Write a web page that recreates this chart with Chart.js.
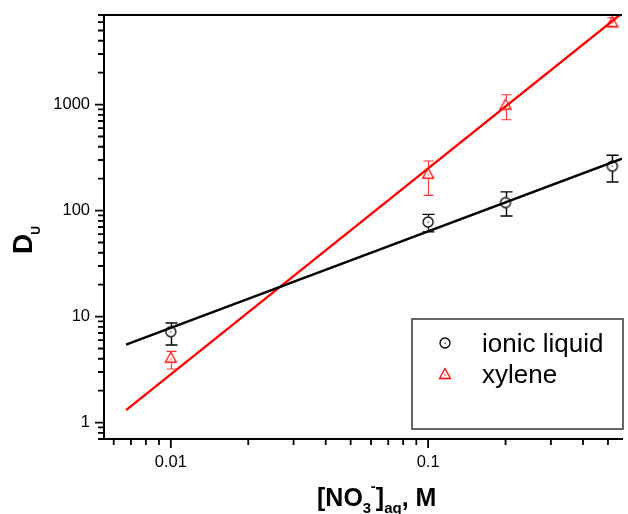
<!DOCTYPE html>
<html>
<head>
<meta charset="utf-8">
<title>D(U) vs nitrate</title>
<script src="https://cdn.jsdelivr.net/npm/chart.js@4.4.0/dist/chart.umd.min.js"></script>
<style>
  html, body { margin: 0; padding: 0; background: #fff; }
  canvas { display: block; }
</style>
</head>
<body>
<canvas id="duChart" width="628" height="514"></canvas>
<script>
// nitrate concentration in the aqueous phase, M
var conc = [0.01, 0.1, 0.2, 0.52];

// D(U) into the ionic liquid, with error bar limits
var duIonic   = [7.2, 78, 119, 262];
var duIonicHi = [8.7, 92, 150, 333];
var duIonicLo = [5.4, 63, 89, 186];

// D(U) into xylene, with error bar limits
var duXylene   = [4.1, 223, 1000, 6000];
var duXyleneHi = [4.7, 294, 1240, 6600];
var duXyleneLo = [3.2, 139, 720, 5400];

// straight-line fits (log-log), end points
var fitConc   = [0.0067, 0.567];
var fitIonic  = [5.44, 309];
var fitXylene = [1.31, 7270];

// labelled ticks
var xTicks = [0.01, 0.1];
var yTicks = [1, 10, 100, 1000];

var FONT = "'Liberation Sans', Arial, Helvetica, sans-serif";

function isMajor(list, v) {
  return list.some(function (t) { return Math.abs(t - v) / t < 1e-6; });
}

// 1..9 x decade ticks inside [min, max]
function logTicks(scale) {
  var out = [];
  var lo = Math.floor(Math.log10(scale.min)), hi = Math.ceil(Math.log10(scale.max));
  for (var e = lo; e <= hi; e++) {
    for (var m = 1; m <= 9; m++) {
      var v = m * Math.pow(10, e);
      if (v >= scale.min * 0.9999 && v <= scale.max * 1.0001) out.push({ value: v });
    }
  }
  scale.ticks = out;
}

function marker(kind, color) {
  var c = document.createElement('canvas');
  c.width = 16; c.height = 16;
  var g = c.getContext('2d');
  g.strokeStyle = color;
  g.fillStyle = color;
  g.lineWidth = 1.3;
  g.beginPath();
  if (kind === 'circle') {
    g.arc(8, 8, 5, 0, Math.PI * 2);
  } else {
    g.moveTo(8, 2.5);
    g.lineTo(13.5, 12.5);
    g.lineTo(2.5, 12.5);
    g.closePath();
  }
  g.stroke();
  g.fillRect(7.5, kind === 'circle' ? 7.5 : 8.5, 1.2, 1.2);
  return c;
}

var circleMark = marker('circle', '#000');
var triMark = marker('triangle', '#ff0000');

function pts(xs, ys) {
  return xs.map(function (x, i) { return { x: x, y: ys[i] }; });
}

// vertical error bars with caps, broken around the marker
var errorBars = {
  id: 'errorBars',
  afterDatasetsDraw: function (chart) {
    var ctx = chart.ctx, xs = chart.scales.x, ys = chart.scales.y;
    chart.data.datasets.forEach(function (ds) {
      if (!ds.errHi) return;
      ctx.save();
      ctx.strokeStyle = ds.errColor;
      ctx.lineWidth = ds.errWidth;
      ds.data.forEach(function (p, j) {
        var x = Math.round(xs.getPixelForValue(p.x)) + 0.5;
        var y = ys.getPixelForValue(p.y);
        var yh = ys.getPixelForValue(ds.errHi[j]);
        var yl = ys.getPixelForValue(ds.errLo[j]);
        var r = ds.errGap, w = ds.errCap;
        ctx.beginPath();
        if (yh < y - r) { ctx.moveTo(x, yh); ctx.lineTo(x, y - r); }
        if (yl > y + r) { ctx.moveTo(x, y + r); ctx.lineTo(x, yl); }
        ctx.moveTo(x - w, yh); ctx.lineTo(x + w, yh);
        ctx.moveTo(x - w, yl); ctx.lineTo(x + w, yl);
        ctx.stroke();
      });
      ctx.restore();
    });
  }
};

// outward tick marks (long on decades, short in between) and the top frame line
var axisMarks = {
  id: 'axisMarks',
  afterDraw: function (chart) {
    var ctx = chart.ctx, a = chart.chartArea;
    var xs = chart.scales.x, ys = chart.scales.y;
    ctx.save();
    ctx.strokeStyle = '#000';
    ctx.lineWidth = 1.8;
    ctx.beginPath();
    xs.ticks.forEach(function (t) {
      var x = xs.getPixelForValue(t.value);
      var len = isMajor(xTicks, t.value) ? 9 : 6;
      ctx.moveTo(x, a.bottom); ctx.lineTo(x, a.bottom + len);
    });
    ys.ticks.forEach(function (t) {
      var y = ys.getPixelForValue(t.value);
      var len = isMajor(yTicks, t.value) ? 9 : 6;
      ctx.moveTo(a.left, y); ctx.lineTo(a.left - len, y);
    });
    ctx.stroke();
    ctx.lineWidth = 2;
    ctx.beginPath();
    ctx.moveTo(a.left - 1, a.top); ctx.lineTo(a.right, a.top);
    ctx.stroke();
    ctx.restore();
  }
};

// axis titles with sub/superscripts and the boxed legend
var labels = {
  id: 'labels',
  afterDraw: function (chart) {
    var ctx = chart.ctx;
    ctx.save();
    ctx.fillStyle = '#000';
    ctx.textAlign = 'left';
    ctx.textBaseline = 'alphabetic';

    // y title: D_U
    ctx.save();
    ctx.translate(32, 254);
    ctx.rotate(-Math.PI / 2);
    ctx.font = 'bold 28px ' + FONT;
    ctx.fillText('D', 0, 0);
    var dw = ctx.measureText('D').width;
    ctx.font = 'bold 12px ' + FONT;
    ctx.fillText('U', dw - 1, 8);
    ctx.restore();

    // x title: [NO3-]aq, M
    var x = 317, base = 506, sub = 513;
    var big = 'bold 25px ' + FONT, small = 'bold 15px ' + FONT;
    function put(txt, font, y) {
      ctx.font = font;
      ctx.fillText(txt, x, y);
      x += ctx.measureText(txt).width;
    }
    put('[NO', big, base);
    var x3 = x;
    put('3', small, sub);
    ctx.font = small;
    ctx.fillText('-', x3 + 8, 491);
    x = Math.max(x, x3 + 13);
    put(']', big, base);
    put('aq', small, sub);
    put(', M', big, base);

    // legend
    var ds = chart.data.datasets;
    ctx.strokeStyle = '#666';
    ctx.lineWidth = 2;
    ctx.strokeRect(412, 319, 211, 110);
    ctx.font = '26px ' + FONT;
    ctx.drawImage(circleMark, 445 - 8, 343 - 8);
    ctx.fillText(ds[0].label, 482, 352);
    ctx.drawImage(triMark, 445 - 8, 374 - 8);
    ctx.fillText(ds[1].label, 482, 383);
    ctx.restore();
  }
};

Chart.defaults.font.family = FONT;
Chart.defaults.color = '#000';

new Chart(document.getElementById('duChart'), {
  type: 'scatter',
  data: {
    datasets: [
      {
        label: 'ionic liquid',
        data: pts(conc, duIonic),
        pointStyle: circleMark,
        pointRadius: 5,
        errHi: duIonicHi, errLo: duIonicLo,
        errColor: '#000', errWidth: 1.4, errGap: 5.5, errCap: 6,
        clip: false
      },
      {
        label: 'xylene',
        data: pts(conc, duXylene),
        pointStyle: triMark,
        pointRadius: 5,
        errHi: duXyleneHi, errLo: duXyleneLo,
        errColor: '#ff3030', errWidth: 1.1, errGap: 5.5, errCap: 5,
        clip: false
      },
      {
        label: 'fit ionic liquid',
        data: pts(fitConc, fitIonic),
        showLine: true,
        borderColor: '#000',
        borderWidth: 2.4,
        pointRadius: 0
      },
      {
        label: 'fit xylene',
        data: pts(fitConc, fitXylene),
        showLine: true,
        borderColor: '#ff0000',
        borderWidth: 2.4,
        pointRadius: 0
      }
    ]
  },
  options: {
    responsive: false,
    animation: false,
    devicePixelRatio: 1,
    layout: { padding: { top: 15, right: 0, bottom: 0, left: 0 } },
    plugins: {
      legend: { display: false },
      tooltip: { enabled: false }
    },
    scales: {
      x: {
        type: 'logarithmic',
        min: 0.0055,
        max: 0.567,
        afterBuildTicks: logTicks,
        afterFit: function (s) { s.height = 75; s.paddingLeft = 0; s.paddingRight = 0; },
        grid: { display: false },
        border: { display: true, color: '#000', width: 2 },
        ticks: {
          autoSkip: false,
          maxRotation: 0,
          padding: 6,
          font: { size: 16.5 },
          callback: function (v) { return isMajor(xTicks, v) ? String(v) : ''; }
        }
      },
      y: {
        type: 'logarithmic',
        min: 0.7,
        max: 7000,
        afterBuildTicks: logTicks,
        afterFit: function (s) { s.width = 104; s.paddingTop = 0; s.paddingBottom = 0; },
        grid: { display: false },
        border: { display: true, color: '#000', width: 2 },
        ticks: {
          autoSkip: false,
          padding: 6,
          font: { size: 16.5 },
          callback: function (v) { return isMajor(yTicks, v) ? String(v) : ''; }
        }
      }
    }
  },
  plugins: [errorBars, axisMarks, labels]
});
</script>
</body>
</html>
